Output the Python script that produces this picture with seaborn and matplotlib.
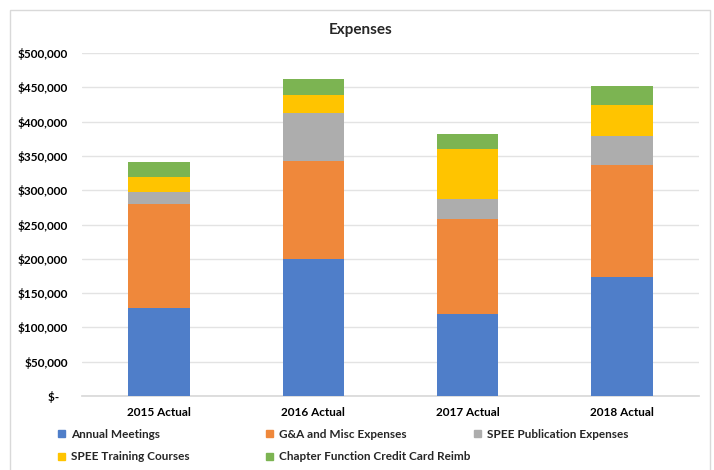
import matplotlib
matplotlib.use("Agg")
import matplotlib.pyplot as plt
import matplotlib.patches as mpatches
import seaborn as sns
import numpy as np
import pandas as pd

# data (dollars)
years = ["2015 Actual", "2016 Actual", "2017 Actual", "2018 Actual"]
series = ["Annual Meetings", "G&A and Misc Expenses", "SPEE Publication Expenses",
          "SPEE Training Courses", "Chapter Function Credit Card Reimb"]
annual_meetings = [128000, 199000, 119500, 173500]
ga_misc = [151500, 143000, 138500, 163500]
publication = [18500, 71000, 29000, 41500]
training = [21500, 26000, 72500, 46000]
chapter_reimb = [21500, 23500, 22000, 27000]
colors = ["#4F7EC9", "#EF883B", "#ADADAD", "#FFC400", "#7CB452"]

sns.set_theme(style="white")
plt.rcParams["font.family"] = ["Lato", "DejaVu Sans"]

df = pd.DataFrame({"year": years,
                   series[0]: annual_meetings,
                   series[1]: ga_misc,
                   series[2]: publication,
                   series[3]: training,
                   series[4]: chapter_reimb})

fig = plt.figure(figsize=(7.14, 4.70), dpi=100)
ax = fig.add_axes([82 / 714, 1 - 396 / 470, 617 / 714, 343 / 470])

# stacked bars: draw cumulative totals from the top down
cum = df[series].cumsum(axis=1)
for i in range(len(series) - 1, -1, -1):
    sns.barplot(x=df["year"], y=cum[series[i]], color=colors[i], width=0.4,
                saturation=1, ax=ax, zorder=3, linewidth=0)

ax.set_ylim(0, 500000)
ax.set_xlim(-0.5, 3.5)
ax.set_yticks(np.arange(0, 500001, 50000))
ax.set_yticklabels(["$-   "] + ["${:,.0f}".format(v) for v in np.arange(50000, 500001, 50000)])
ax.yaxis.grid(True, color="#E3E3E3", linewidth=1, zorder=0)
ax.set_axisbelow(True)
for s in ["top", "right", "left"]:
    ax.spines[s].set_visible(False)
ax.spines["bottom"].set_color("#D9D9D9")
ax.tick_params(axis="both", length=0, labelsize=8.5, colors="#000000")
ax.tick_params(axis="y", pad=10)
ax.tick_params(axis="x", pad=8)
for lbl in ax.get_xticklabels() + ax.get_yticklabels():
    lbl.set_fontweight("bold")
ax.set_xlabel("")
ax.set_ylabel("")

fig.text(361 / 714, 1 - 30 / 470, "Expenses", ha="center", va="center",
         fontsize=11, fontweight="bold")

# legend laid out row by row, as in the reference
legend_spots = [(58, 434), (266, 434), (474, 434), (58, 457), (266, 457)]
for (lx, ly), c, s in zip(legend_spots, colors, series):
    fig.legend(handles=[mpatches.Patch(color=c, label=s)], loc="center left",
               bbox_to_anchor=(lx / 714, 1 - ly / 470), frameon=False,
               borderpad=0, borderaxespad=0,
               prop={"size": 8.5, "weight": "bold"}, handlelength=0.6,
               handleheight=0.6, handletextpad=0.5)

# chart border
fig.patches.append(mpatches.Rectangle((10 / 714, -0.05), 700 / 714, 1 - 10 / 470 + 0.05,
                                      transform=fig.transFigure, fill=False,
                                      edgecolor="#D9D9D9", linewidth=1))

fig.savefig("out.png", dpi=100)
